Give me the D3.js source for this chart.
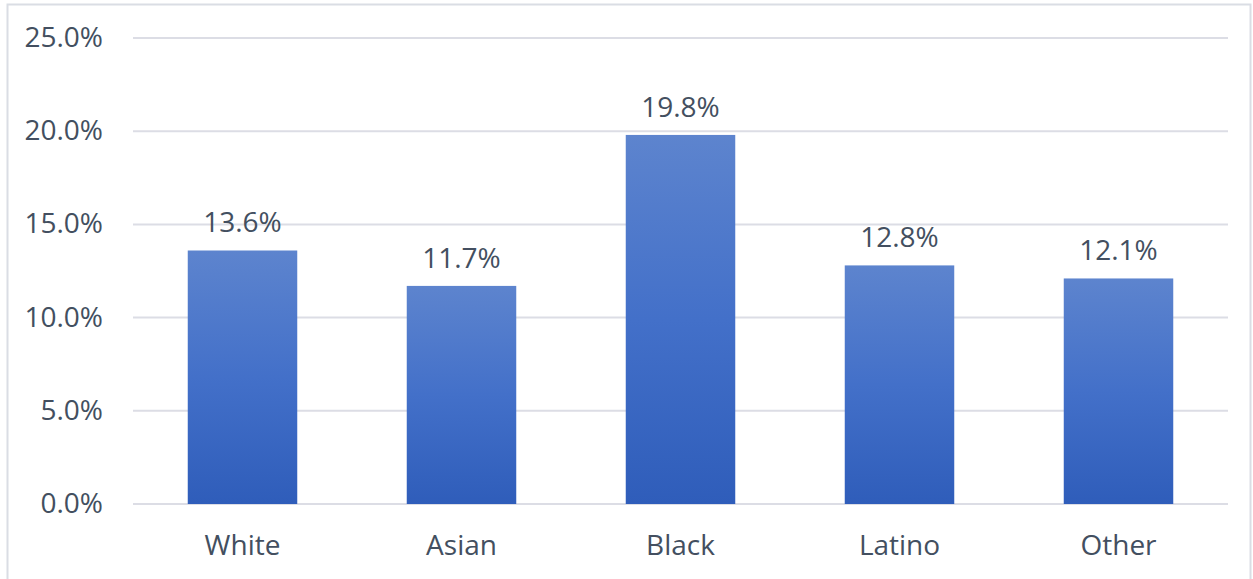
<!DOCTYPE html>
<html>
<head>
<meta charset="utf-8">
<script src="https://cdn.jsdelivr.net/npm/d3@7"></script>
<style>
  body { margin: 0; background: #fff; }
  svg text { font-family: "Open Sans", "Noto Sans", sans-serif; fill: #434f60; }
</style>
</head>
<body>
<svg id="chart"></svg>
<script>
// data
const categories = ["White", "Asian", "Black", "Latino", "Other"]
const values = [13.6, 11.7, 19.8, 12.8, 12.1]
const yTicks = [0, 5, 10, 15, 20, 25]

const width = 1253, height = 579
const margin = {top: 38, right: 25, bottom: 75, left: 133}
const fontSize = 28

const svg = d3.select("#chart").attr("width", width).attr("height", height)

// outer frame
svg.append("rect")
  .attr("x", 7.5).attr("y", 4.5)
  .attr("width", 1243).attr("height", 580)
  .attr("fill", "none").attr("stroke", "#dadde4").attr("stroke-width", 2)

const x = d3.scaleBand()
  .domain(categories)
  .range([margin.left, width - margin.right])
  .paddingInner(0.5).paddingOuter(0.25)

const y = d3.scaleLinear()
  .domain([0, 25])
  .range([height - margin.bottom, margin.top])

const defs = svg.append("defs")
const grad = defs.append("linearGradient")
  .attr("id", "barGrad")
  .attr("x1", 0).attr("y1", 0).attr("x2", 0).attr("y2", 1)
grad.append("stop").attr("offset", "0%").attr("stop-color", "#5d84ce")
grad.append("stop").attr("offset", "50%").attr("stop-color", "#4370c9")
grad.append("stop").attr("offset", "100%").attr("stop-color", "#2f5dba")

// gridlines
svg.append("g")
  .selectAll("line")
  .data(yTicks)
  .enter().append("line")
    .attr("x1", margin.left).attr("x2", width - margin.right)
    .attr("y1", d => y(d)).attr("y2", d => y(d))
    .attr("stroke", "#dcdde5").attr("stroke-width", 2)

// y axis labels
const yAxis = svg.append("g")
  .attr("transform", "translate(" + (margin.left - 30) + ",0)")
  .call(d3.axisLeft(y).tickValues(yTicks).tickSize(0).tickPadding(0)
    .tickFormat(d => d.toFixed(1) + "%"))
yAxis.select(".domain").remove()
yAxis.selectAll("text")
  .attr("font-size", fontSize)
  .attr("dy", "0.3em")
  .style("font-family", "'Open Sans', 'Noto Sans', sans-serif")
  .style("fill", "#434f60")

// bars
svg.append("g")
  .selectAll("rect")
  .data(values)
  .enter().append("rect")
    .attr("x", (d, i) => x(categories[i]))
    .attr("width", x.bandwidth())
    .attr("y", d => y(d))
    .attr("height", d => y(0) - y(d))
    .attr("fill", "url(#barGrad)")

// value labels
svg.append("g")
  .selectAll("text")
  .data(values)
  .enter().append("text")
    .attr("x", (d, i) => x(categories[i]) + x.bandwidth() / 2)
    .attr("y", d => y(d) - 18)
    .attr("text-anchor", "middle")
    .attr("font-size", fontSize)
    .text(d => d.toFixed(1) + "%")

// x axis labels
const xAxis = svg.append("g")
  .attr("transform", "translate(0," + (y(0) + 51) + ")")
  .call(d3.axisBottom(x).tickSize(0).tickPadding(0))
xAxis.select(".domain").remove()
xAxis.selectAll("text")
  .attr("font-size", fontSize)
  .attr("dy", 0)
  .style("font-family", "'Open Sans', 'Noto Sans', sans-serif")
  .style("fill", "#434f60")
</script>
</body>
</html>
